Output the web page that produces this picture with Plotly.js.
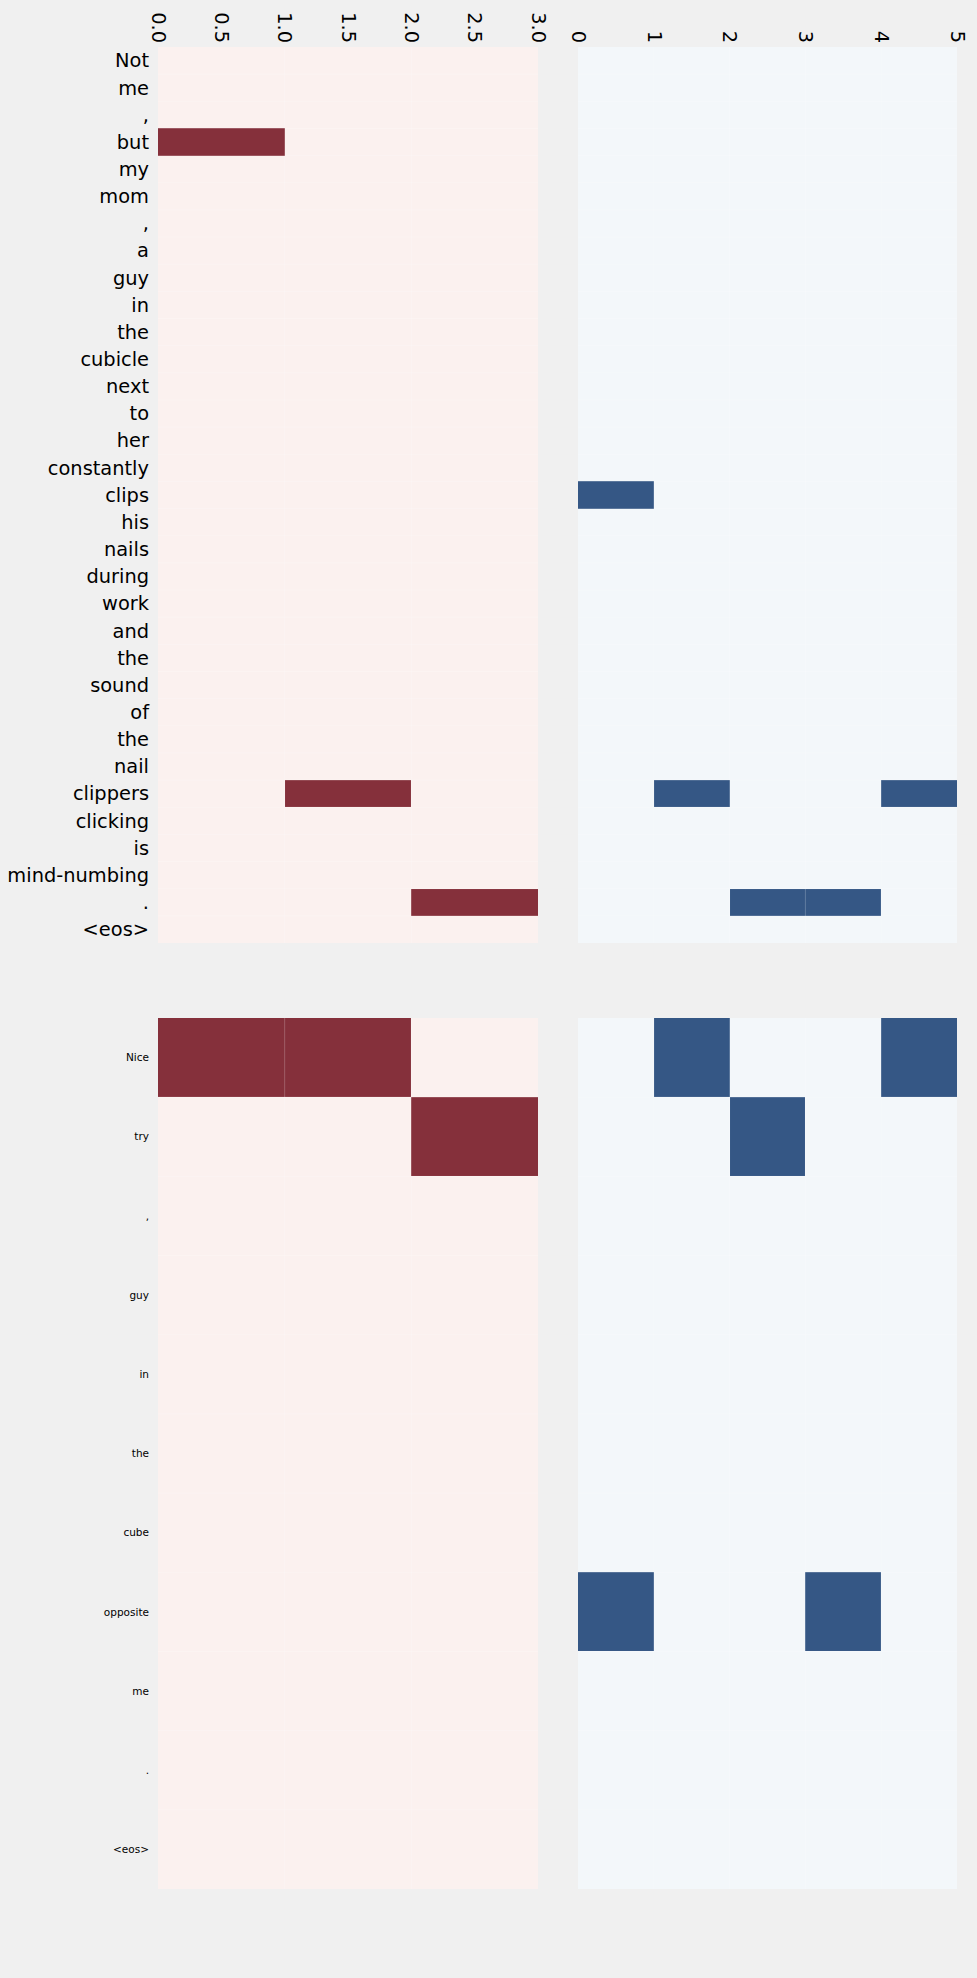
<!DOCTYPE html>
<html>
<head>
<meta charset="utf-8">
<script src="https://cdn.plot.ly/plotly-3.0.1.min.js"></script>
<style>
html,body{margin:0;padding:0;background:#f0f0f0;}
#chart{width:977px;height:1978px;}
</style>
</head>
<body>
<div id="chart"></div>
<script>
// ---- DATA ----
const topTokens = ["Not","me",",","but","my","mom",",","a","guy","in","the","cubicle","next","to","her","constantly","clips","his","nails","during","work","and","the","sound","of","the","nail","clippers","clicking","is","mind-numbing",".","<eos>"];
const bottomTokens = ["Nice","try",",","guy","in","the","cube","opposite","me",".","<eos>"];
const redColumns = [0.5, 1.5, 2.5];
const blueColumns = [0.5, 1.5, 2.5, 3.5, 4.5];
const redTickVals = [0, 0.5, 1, 1.5, 2, 2.5, 3];
const redTickText = ["0.0","0.5","1.0","1.5","2.0","2.5","3.0"];
const blueTickVals = [0, 1, 2, 3, 4, 5];
const blueTickText = ["0","1","2","3","4","5"];

const topRed = [
[0,0,0],[0,0,0],[0,0,0],[1,0,0],[0,0,0],[0,0,0],[0,0,0],[0,0,0],[0,0,0],[0,0,0],
[0,0,0],[0,0,0],[0,0,0],[0,0,0],[0,0,0],[0,0,0],[0,0,0],[0,0,0],[0,0,0],[0,0,0],
[0,0,0],[0,0,0],[0,0,0],[0,0,0],[0,0,0],[0,0,0],[0,0,0],[0,1,0],[0,0,0],[0,0,0],
[0,0,0],[0,0,1],[0,0,0]
];
const topBlue = [
[0,0,0,0,0],[0,0,0,0,0],[0,0,0,0,0],[0,0,0,0,0],[0,0,0,0,0],[0,0,0,0,0],[0,0,0,0,0],[0,0,0,0,0],[0,0,0,0,0],[0,0,0,0,0],
[0,0,0,0,0],[0,0,0,0,0],[0,0,0,0,0],[0,0,0,0,0],[0,0,0,0,0],[0,0,0,0,0],[1,0,0,0,0],[0,0,0,0,0],[0,0,0,0,0],[0,0,0,0,0],
[0,0,0,0,0],[0,0,0,0,0],[0,0,0,0,0],[0,0,0,0,0],[0,0,0,0,0],[0,0,0,0,0],[0,0,0,0,0],[0,1,0,0,1],[0,0,0,0,0],[0,0,0,0,0],
[0,0,0,0,0],[0,0,1,1,0],[0,0,0,0,0]
];
const bottomRed = [
[1,1,0],[0,0,1],[0,0,0],[0,0,0],[0,0,0],[0,0,0],[0,0,0],[0,0,0],[0,0,0],[0,0,0],[0,0,0]
];
const bottomBlue = [
[0,1,0,0,1],[0,0,1,0,0],[0,0,0,0,0],[0,0,0,0,0],[0,0,0,0,0],[0,0,0,0,0],[0,0,0,0,0],[1,0,0,1,0],[0,0,0,0,0],[0,0,0,0,0],[0,0,0,0,0]
];

// ---- STYLE ----
const redScale = [[0,"#fbf1ef"],[1,"#85303b"]];
const blueScale = [[0,"#f3f7fa"],[1,"#355785"]];
const FONT = "DejaVu Sans, sans-serif";
const W = 977, H = 1978;
const xL = [158/W, 538/W], xR = [578/W, 957/W];
const yTop = [1-943/H, 1-47/H], yBot = [1-1889/H, 1-1018/H];

function idx(n){ return Array.from({length:n},(_,i)=>i); }

function hm(z, x, tokens, scale, xa, ya){
  return {type:"heatmap", z:z, x:x, y:idx(tokens.length), colorscale:scale, zmin:0, zmax:1,
    showscale:false, xaxis:xa, yaxis:ya, hoverinfo:"skip"};
}

const data = [
  hm(topRed, redColumns, topTokens, redScale, "x", "y"),
  hm(topBlue, blueColumns, topTokens, blueScale, "x2", "y2"),
  hm(bottomRed, redColumns, bottomTokens, redScale, "x3", "y3"),
  hm(bottomBlue, blueColumns, bottomTokens, blueScale, "x4", "y4")
];

function xaxis(domain, nCols, anchor, vals, text, show){
  return {domain:domain, range:[0,nCols], anchor:anchor, side:"top", showgrid:false, zeroline:false,
    showline:false, ticks:"", tickvals:show?vals:[], ticktext:show?text:[], showticklabels:show,
    tickangle:90, tickfont:{family:FONT, size:19.4, color:"#000"}, fixedrange:true};
}
function yaxis(domain, tokens, anchor, show, size){
  const n = tokens.length;
  return {domain:domain, range:[n-0.5,-0.5], anchor:anchor, showgrid:false, zeroline:false, showline:false,
    ticks:"", tickvals:idx(n), ticktext:show?tokens:[], showticklabels:show, ticklabelstandoff:8,
    tickfont:{family:FONT, size:size, color:"#000"}, fixedrange:true};
}

// faint cell-boundary lines
const shapes = [];
function grid(xref, yref, nCols, nRows, color){
  for(let c=1;c<nCols;c++) shapes.push({type:"line", xref:xref, yref:yref, x0:c, x1:c, y0:-0.5, y1:nRows-0.5, line:{color:color,width:1}, layer:"above"});
  for(let r=1;r<nRows;r++) shapes.push({type:"line", xref:xref, yref:yref, x0:0, x1:nCols, y0:r-0.5, y1:r-0.5, line:{color:color,width:1}, layer:"above"});
}
const gridColor = "rgba(255,255,255,0.22)";
grid("x","y",redColumns.length, topTokens.length, gridColor);
grid("x2","y2",blueColumns.length, topTokens.length, gridColor);
grid("x3","y3",redColumns.length, bottomTokens.length, gridColor);
grid("x4","y4",blueColumns.length, bottomTokens.length, gridColor);

const layout = {
  width:W, height:H, margin:{l:0,r:0,t:0,b:0}, paper_bgcolor:"#f0f0f0", plot_bgcolor:"#f0f0f0",
  showlegend:false, font:{family:FONT},
  xaxis: xaxis(xL, redColumns.length, "y", redTickVals, redTickText, true),
  yaxis: yaxis(yTop, topTokens, "x", true, 19.4),
  xaxis2: xaxis(xR, blueColumns.length, "y2", blueTickVals, blueTickText, true),
  yaxis2: yaxis(yTop, topTokens, "x2", false, 19.4),
  xaxis3: xaxis(xL, redColumns.length, "y3", redTickVals, redTickText, false),
  yaxis3: yaxis(yBot, bottomTokens, "x3", true, 10.5),
  xaxis4: xaxis(xR, blueColumns.length, "y4", blueTickVals, blueTickText, false),
  yaxis4: yaxis(yBot, bottomTokens, "x4", false, 10.5),
  shapes: shapes
};

Plotly.newPlot("chart", data, layout, {staticPlot:true});
</script>
</body>
</html>
